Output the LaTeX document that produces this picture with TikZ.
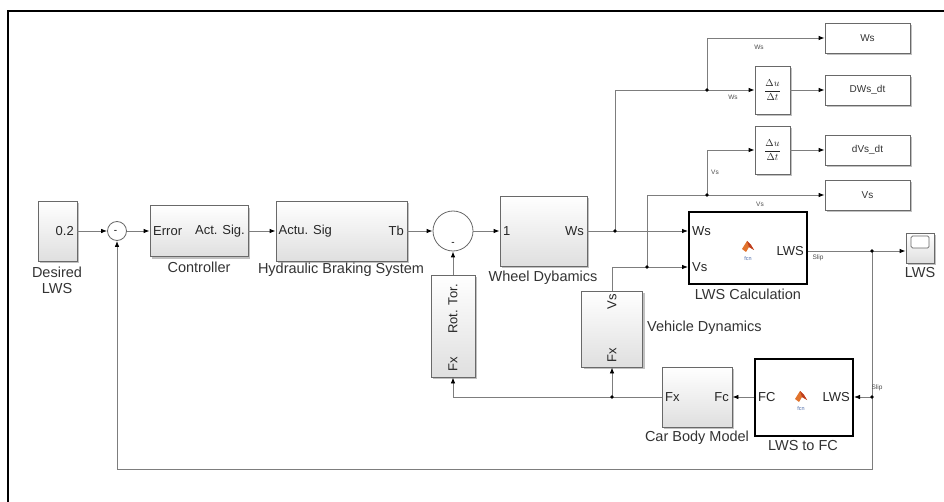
\documentclass[tikz,border=0pt]{standalone}
\usepackage{fontspec}
\setmainfont{Liberation Sans}
\usetikzlibrary{arrows.meta,shadows,calc}
\definecolor{linec}{RGB}{125,125,125}
\definecolor{edgec}{RGB}{105,105,105}
\definecolor{fcnorange}{RGB}{225,115,45}
\definecolor{fcnred}{RGB}{190,60,30}
\definecolor{fcnblue}{RGB}{80,110,170}
\begin{document}
\begin{tikzpicture}[x=1pt,y=-1pt,
  shad/.style={drop shadow={shadow xshift=2.2pt, shadow yshift=-2.2pt, fill=gray!60, opacity=0.8}},
  blk/.style={draw=edgec, line width=0.8pt, top color=white, bottom color=gray!25, shad, inner sep=0pt},
  wblk/.style={draw=edgec, line width=0.8pt, fill=white, shad, inner sep=0pt},
  fblk/.style={draw=black, line width=2pt, fill=white, inner sep=0pt},
  sumc/.style={circle, draw=edgec, fill=white, line width=0.8pt, inner sep=0pt},
  sig/.style={draw=linec, line width=0.8pt, -{Latex[length=6pt,width=4.5pt,color=black]}},
  ln/.style={draw=linec, line width=0.8pt},
  port/.style={font=\fontsize{13}{13}\selectfont, text=black!85, inner sep=0pt},
  lbl/.style={font=\fontsize{14.5}{16}\selectfont, text=black!80, inner sep=0pt},
  otxt/.style={font=\fontsize{10}{10}\selectfont, text=black!80, inner sep=0pt},
  dtxt/.style={font=\fontsize{10}{10}\selectfont, text=black!85, inner sep=0pt},
  tiny/.style={font=\fontsize{6.5}{7}\selectfont, text=black!70, inner sep=0pt},
  jdot/.style={circle, fill=black, inner sep=0pt, minimum size=3.6pt},
  fcnicon/.pic={
    \fill[fcnorange] (-6,2) -- (-1,-6) -- (3,-2) -- (6,3) -- (1,0) -- (-2,5) -- cycle;
    \fill[fcnred] (-1,-6) -- (3,-2) -- (6,3) -- (1,0) -- cycle;
    \node[font=\fontsize{5.5}{6}\selectfont, text=fcnblue, inner sep=0pt] at (0,12) {fcn};
  }
]
\useasboundingbox (0,0) rectangle (944,502);
% outer frame
\draw[black, line width=2pt] (8,502) -- (8,11) -- (944,11);

% ---------- blocks ----------
\node[blk, minimum width=39pt, minimum height=60pt] (desired) at (57.5,231) {};
\node[port, anchor=east] (desv) at (74,231) {0.2};
\node[lbl, align=center] (deslbl) at (57,280) {Desired\\LWS};

\node[sumc, minimum size=19pt] (sum1) at (117,231) {};
\node[font=\fontsize{10}{10}\selectfont, inner sep=0pt] (s1m) at (115.5,232) {-};

\node[blk, minimum width=98pt, minimum height=51pt] (ctrl) at (199,231) {};
\node[port, anchor=west] (ctrlin) at (153,231) {Error};
\node[port, anchor=east] (ctrlout) at (245,231) {Act. Sig.};
\node[lbl] (ctrllbl) at (199,267) {Controller};

\node[blk, minimum width=131pt, minimum height=60pt] (hyd) at (341.5,231) {};
\node[port, anchor=west] (hydin) at (278.5,231) {Actu. Sig};
\node[port, anchor=east] (hydout) at (404,231) {Tb};
\node[lbl] (hydlbl) at (341,270) {Hydraulic Braking System};

\node[sumc, minimum size=40pt] (sum2) at (453,231) {};
\node[font=\fontsize{10}{10}\selectfont, inner sep=0pt] (s2m) at (453,244) {-};

\node[blk, minimum width=44pt, minimum height=102pt] (rot) at (453,326) {};
\node[port, rotate=90] (rottxt) at (453,309) {Rot. Tor.};
\node[port, rotate=90] (rotfx) at (453,364) {Fx};

\node[blk, minimum width=87pt, minimum height=70pt] (wheel) at (543.5,231) {};
\node[port, anchor=west] (whin) at (503,231) {1};
\node[port, anchor=east] (whout) at (584,231) {Ws};
\node[lbl] (whlbl) at (543,278) {Wheel Dybamics};

\node[fblk, minimum width=118pt, minimum height=72pt] (calc) at (748,248.5) {};
\node[port, anchor=west] (calcws) at (692,231) {Ws};
\node[port, anchor=west] (calcvs) at (692,267) {Vs};
\node[port, anchor=east] (calcout) at (804,251) {LWS};
\pic at (748,247) {fcnicon};
\node[lbl] (calclbl) at (748,294) {LWS Calculation};

\node[blk, minimum width=61pt, minimum height=76pt] (veh) at (612,329) {};
\node[port, rotate=90] (vehvs) at (612,302) {Vs};
\node[port, rotate=90] (vehfx) at (612,355) {Fx};
\node[lbl, anchor=west] (vehlbl) at (647,328) {Vehicle Dynamics};

\node[blk, minimum width=70pt, minimum height=60pt] (car) at (697,397) {};
\node[port, anchor=west] (carfx) at (665,397) {Fx};
\node[port, anchor=east] (carfc) at (729,397) {Fc};
\node[lbl] (carlbl) at (697,438) {Car Body Model};

\node[fblk, minimum width=98pt, minimum height=77pt] (ltf) at (804,397) {};
\node[port, anchor=west] (ltffc) at (758,397) {FC};
\node[port, anchor=east] (ltflws) at (850,397) {LWS};
\pic at (801,397) {fcnicon};
\node[lbl] (ltflbl) at (803,446) {LWS to FC};

\node[blk, minimum width=28pt, minimum height=30pt] (scope) at (920,248) {};
\node[draw=edgec, fill=white, rounded corners=1.5pt, line width=0.7pt, minimum width=18pt, minimum height=12pt, inner sep=0pt] (scr) at (920,242) {};
\node[lbl] (scopelbl) at (920,273) {LWS};

\node[wblk, minimum width=35pt, minimum height=48pt] (d1) at (772.5,90) {};
\node[dtxt] (d1t) at (772.5,90) {$\displaystyle\frac{\Delta u}{\Delta t}$};
\node[wblk, minimum width=35pt, minimum height=48pt] (d2) at (772.5,150) {};
\node[dtxt] (d2t) at (772.5,150) {$\displaystyle\frac{\Delta u}{\Delta t}$};

\node[wblk, minimum width=85pt, minimum height=30pt] (wsout) at (867.5,38) {};
\node[otxt] (wsoutt) at (867.5,38) {Ws};
\node[wblk, minimum width=85pt, minimum height=30pt] (dwsout) at (867.5,90) {};
\node[otxt] (dwsoutt) at (867.5,90) {DWs\_dt};
\node[wblk, minimum width=85pt, minimum height=30pt] (dvsout) at (867.5,150) {};
\node[otxt] (dvsoutt) at (867.5,150) {dVs\_dt};
\node[wblk, minimum width=85pt, minimum height=30pt] (vsout) at (867.5,195) {};
\node[otxt] (vsoutt) at (867.5,195) {Vs};

% ---------- junctions ----------
\coordinate (J1) at (615,231);
\coordinate (J2) at (707,90);
\coordinate (J3) at (647,267);
\coordinate (J4) at (707,195);
\coordinate (J5) at (872,251);
\coordinate (J6) at (872,397);
\coordinate (J7) at (612,397);
\coordinate (fb1) at (872,469);
\coordinate (fb2) at (117,469);

% ---------- connectors ----------
\draw[sig] (desired.east) -- (sum1.west);
\draw[sig] (sum1.east) -- (ctrl.west);
\draw[sig] (ctrl.east) -- (hyd.west);
\draw[sig] (hyd.east) -- (sum2.west);
\draw[sig] (sum2.east) -- (wheel.west);
\draw[sig] (rot.north) -- (sum2.south);

\draw[sig] (wheel.east) -- (J1 -| calc.west);
\draw[ln] (J1) |- (J2);
\draw[sig] (J2) -- (J2 -| d1.west);
\draw[sig] (J2) |- (wsout.west);
\draw[sig] (d1.east) -- (dwsout.west);

\draw[sig] (veh.north) |- (J3 -| calc.west);
\draw[sig] (J3) |- (vsout.west);
\draw[sig] (J4) |- (d2.west);
\draw[sig] (d2.east) -- (dvsout.west);

\draw[sig] (calc.east |- J5) -- (J5 -| scope.west);
\draw[sig] (J5) -- (fb1) -- (fb2) -- (sum1.south);
\draw[sig] (J6) -- (J6 -| ltf.east);
\draw[sig] (ltf.west) -- (car.east);
\draw[sig] (car.west) -| (rot.south);
\draw[sig] (J7) -- (veh.south);

\foreach \j in {J1,J2,J3,J4,J5,J6,J7} \node[jdot] at (\j) {};

% ---------- signal labels ----------
\node[tiny] (lws1) at (759,47) {Ws};
\node[tiny] (lws2) at (733,97) {Ws};
\node[tiny] (lvs1) at (715,172) {Vs};
\node[tiny] (lvs2) at (760,204) {Vs};
\node[tiny] (lslip1) at (818,258) {Slip};
\node[tiny] (lslip2) at (877,388) {Slip};
\end{tikzpicture}
\end{document}
